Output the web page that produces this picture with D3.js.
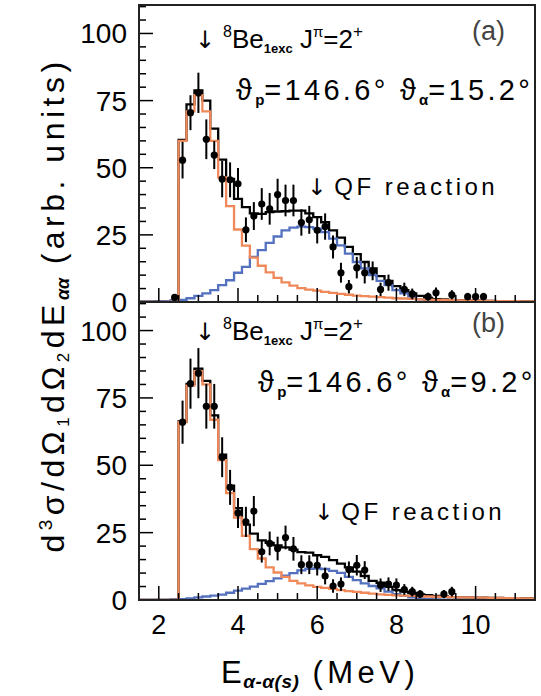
<!DOCTYPE html>
<html>
<head>
<meta charset="utf-8">
<script src="https://cdn.jsdelivr.net/npm/d3@7"></script>
<style>
  body { margin: 0; background: #fff; }
  text { font-family: "Liberation Sans", Arial, sans-serif; }
  .arrow { font-family: "DejaVu Sans", sans-serif; }
</style>
</head>
<body>
<div id="chart"></div>
<script>
// histogram bins: 0.2 MeV wide, first bin starts at 1.5 MeV (50 bins)
const binStart = 1.5, binWidth = 0.2;

// panel (a)  theta_alpha = 15.2 deg
const orangeA = [0, 0, 0, 0, 0,
  60, 71, 77, 71, 60, 46.4, 35.7, 27, 21, 16.5, 13.5, 11, 9, 7.3, 6.1,
  5.2, 4.6, 4.2, 3.8, 3.4, 3.0, 2.7, 2.4, 2.2, 2.0, 1.8, 1.6, 1.4, 1.3, 1.2,
  1.0, 0.9, 0.8, 0.75, 0.7, 0.6, 0.55, 0.5, 0.45, 0.4, 0.35, 0.3, 0.3, 0.25, 0.2];
const blueA = [0.1, 0.1, 0.2, 0.3, 0.5,
  0.8, 1.4, 2.3, 3.2, 4.4, 6.3, 8.1, 10.9, 13.1, 16.8, 19.3, 22, 24.4, 26.7, 27.7,
  28.1, 27.9, 27.3, 26, 23.6, 21.1, 18, 14.9, 12.5, 10, 7.9, 6.3, 4.4, 3.2, 2,
  1, 0.6, 0.3, 0.2, 0.1, 0, 0, 0, 0, 0, 0, 0, 0, 0, 0];
const totalA = [0.1, 0.1, 0.2, 0.3, 0.5,
  60.4, 73.6, 78.8, 75, 64.6, 53, 45.8, 38.4, 35.3, 33, 32.8, 33.5, 33.7, 33.8, 34,
  34, 33, 31.6, 29.7, 26.7, 24, 20.5, 17.8, 14.9, 12.5, 9.6, 7.9, 5.9, 4.4, 3.2,
  2.3, 1.5, 1.1, 0.95, 0.8, 0.6, 0.55, 0.5, 0.45, 0.4, 0.35, 0.3, 0.3, 0.25, 0.2];
const dataEA = [2.4, 2.6, 2.8, 3.0, 3.2, 3.4, 3.6, 3.8, 4.0, 4.2, 4.4, 4.6, 4.8, 5.0, 5.2, 5.4,
  5.6, 5.8, 6.0, 6.2, 6.4, 6.6, 6.8, 7.0, 7.2, 7.4, 7.6, 7.8, 8.2, 8.4, 8.8, 9.0, 9.4, 9.8, 10.0, 10.2];
const dataYA = [1.7, 52.8, 70.5, 77.9, 60.6, 54.7, 45.8, 45.5, 44, 26.9, 32, 36.5, 34.7, 40, 37.8, 37.8,
  29.6, 30.6, 26.7, 28.1, 20.5, 10.9, 5.7, 12.8, 10.9, 11.6, 4.7, 7.2, 4.7, 3, 2, 3.4, 2.7, 2, 2, 2];
const dataErrA = [1.2, 6.8, 6.5, 7.5, 7.4, 5.2, 6.8, 6.5, 5.9, 4.6, 5.2, 5.9, 5.9, 5.9, 5.9, 5.9,
  4.9, 5.2, 4.9, 4.9, 4.3, 3.7, 2.5, 4, 4, 3.5, 2.5, 3, 2.5, 2, 1.5, 2, 1.7, 1.4, 1.4, 1.4];

// panel (b)  theta_alpha = 9.2 deg
const orangeB = [0, 0, 0, 0, 0,
  66, 79.6, 84.9, 80, 66.9, 51.9, 39.7, 30.6, 23.8, 18.9, 15.4, 12.1, 10.2, 8.6, 7.1,
  6.2, 5.4, 4.9, 4.5, 4.1, 3.7, 3.3, 3.0, 2.7, 2.4, 2.1, 1.9, 1.7, 1.6, 1.5,
  1.4, 1.3, 1.2, 1.15, 1.1, 1.0, 0.95, 0.9, 0.85, 0.8, 0.75, 0.7, 0.65, 0.6, 0.6];
const blueB = [0, 0, 0, 0, 0.1,
  0.3, 0.6, 1.0, 1.3, 1.6, 2.0, 2.7, 3.5, 4.2, 5.0, 6.0, 7.0, 8.0, 9.0, 10.0,
  11.0, 11.6, 11.7, 11.5, 10.8, 10.1, 8.6, 7.4, 6.2, 5.2, 4.3, 3.1, 2.2, 1.5, 1.0,
  0.6, 0.4, 0.2, 0.1, 0, 0, 0, 0, 0, 0, 0, 0, 0, 0, 0];
const totalB = [0, 0, 0, 0, 0.1,
  66.3, 80.2, 85.9, 81.3, 68.5, 53.9, 42.4, 34.1, 28, 24.6, 22.1, 21.2, 20.3, 19.5, 18.7,
  17.8, 17.6, 16.6, 16.0, 14.8, 13.5, 12.1, 10.5, 8.9, 7.1, 6.4, 4.9, 3.7, 3.1, 2.6,
  2.1, 1.8, 1.5, 1.3, 1.1, 1.0, 0.95, 0.9, 0.85, 0.8, 0.75, 0.7, 0.65, 0.6, 0.6];
const dataEB = [2.6, 2.8, 3.0, 3.2, 3.4, 3.6, 3.8, 4.0, 4.2, 4.4, 4.6, 4.8, 5.0, 5.2, 5.4, 5.6,
  5.8, 6.0, 6.2, 6.4, 6.6, 6.8, 7.0, 7.2, 7.6, 7.8, 8.0, 8.2, 8.4, 8.6, 9.2, 9.4];
const dataYB = [66, 80.3, 84.2, 71.9, 71.9, 53, 41.8, 32.3, 29, 33, 17.9, 21, 19.1, 23.2, 19, 13.1,
  13.1, 12.9, 8.9, 5.2, 5.9, 11.3, 12.9, 11.1, 5.5, 5.9, 5.5, 3.9, 3.1, 2.2, 2.2, 3.1];
const dataErrB = [8, 9.3, 9.3, 8.3, 8.3, 7.4, 6.5, 5.6, 5.6, 5.6, 4, 4.4, 4.4, 4.4, 4.4, 3.5,
  3.5, 3.8, 3.1, 2.5, 2.5, 3, 3.8, 3.3, 2.5, 2.5, 2.5, 2, 1.8, 1.5, 1.5, 1.8];

const yTicks = [0, 25, 50, 75, 100];
const xTicks = [2, 4, 6, 8, 10];

const width = 541, height = 696;
const colOrange = "#f0895a", colBlue = "#5471c0";

const svg = d3.select("#chart")
  .append("svg")
  .attr("width", width)
  .attr("height", height);

const x = d3.scaleLinear().domain([1.5, 11.5]).range([139, 535]);

const panels = [
  {id: "a", top: 5, bottom: 302, orange: orangeA, blue: blueA, total: totalA,
   dE: dataEA, dY: dataYA, dErr: dataErrA},
  {id: "b", top: 302, bottom: 600, orange: orangeB, blue: blueB, total: totalB,
   dE: dataEB, dY: dataYB, dErr: dataErrB}
];

panels.forEach(p => {
  const y = d3.scaleLinear().domain([0, 110.6]).range([p.bottom, p.top]);
  const g = svg.append("g");

  g.append("clipPath").attr("id", "clip-" + p.id)
    .append("rect")
    .attr("x", x(1.5)).attr("y", p.top)
    .attr("width", x(11.5) - x(1.5)).attr("height", p.bottom - p.top);

  const plot = g.append("g").attr("clip-path", `url(#clip-${p.id})`);

  // step histograms
  const line = d3.line()
    .x(d => x(d[0]))
    .y(d => y(d[1]))
    .curve(d3.curveStepAfter);
  const histPts = vals => {
    const pts = vals.map((v, i) => [binStart + i * binWidth, v]);
    pts.push([binStart + vals.length * binWidth, vals[vals.length - 1]]);
    return pts;
  };

  [[p.total, "#000"], [p.blue, colBlue], [p.orange, colOrange]].forEach(([vals, c]) => {
    plot.append("path")
      .attr("d", line(histPts(vals)))
      .attr("fill", "none")
      .attr("stroke", c)
      .attr("stroke-width", 2.3);
  });

  // data points with error bars
  const pts = p.dE.map((e, i) => ({e: e, v: p.dY[i], err: p.dErr[i]}));
  plot.selectAll(".err")
    .data(pts)
    .enter()
    .append("line")
    .attr("x1", d => x(d.e)).attr("x2", d => x(d.e))
    .attr("y1", d => y(d.v - d.err)).attr("y2", d => y(d.v + d.err))
    .attr("stroke", "#000")
    .attr("stroke-width", 2);
  plot.selectAll(".pt")
    .data(pts)
    .enter()
    .append("circle")
    .attr("cx", d => x(d.e))
    .attr("cy", d => y(d.v))
    .attr("r", 3.6)
    .attr("fill", "#000");

  // ticks (inside the frame)
  d3.range(0, 111, 5).forEach(t => {
    const major = t % 25 === 0;
    g.append("line")
      .attr("x1", x(1.5)).attr("x2", x(1.5) + (major ? 14 : 7))
      .attr("y1", y(t)).attr("y2", y(t))
      .attr("stroke", "#000").attr("stroke-width", 1.5);
  });
  d3.range(2, 11.6, 0.5).forEach(t => {
    const major = xTicks.includes(t);
    g.append("line")
      .attr("x1", x(t)).attr("x2", x(t))
      .attr("y1", p.bottom).attr("y2", p.bottom - (major ? 14 : 7))
      .attr("stroke", "#000").attr("stroke-width", 1.5);
  });

  g.selectAll(".ylab")
    .data(yTicks)
    .enter()
    .append("text")
    .attr("x", 127)
    .attr("y", d => y(d) + 10)
    .attr("text-anchor", "end")
    .style("font-size", "28px")
    .text(d => d);

  // frame
  g.append("rect")
    .attr("x", x(1.5)).attr("y", p.top)
    .attr("width", x(11.5) - x(1.5)).attr("height", p.bottom - p.top)
    .attr("fill", "none")
    .attr("stroke", "#222")
    .attr("stroke-width", 2);
});

// x tick labels (bottom panel only)
svg.selectAll(".xlab")
  .data(xTicks)
  .enter()
  .append("text")
  .attr("x", d => x(d))
  .attr("y", 634)
  .attr("text-anchor", "middle")
  .style("font-size", "27px")
  .text(d => d);

// axis titles
svg.append("text")
  .attr("x", 221)
  .attr("y", 683)
  .style("font-size", "31px")
  .style("letter-spacing", "4.5px")
  .html('E<tspan font-size="19" font-weight="bold" font-style="italic" letter-spacing="0.5" dx="-3" dy="5">α-α(s)</tspan><tspan dy="-5"> (MeV)</tspan>');

svg.append("text")
  .attr("transform", "translate(64,305) rotate(-90)")
  .attr("text-anchor", "middle")
  .style("font-size", "32px")
  .style("letter-spacing", "4.5px")
  .html('d<tspan font-size="19" dy="-12">3</tspan><tspan dy="12">σ/dΩ</tspan><tspan font-size="17" dy="5">1</tspan><tspan dy="-5">dΩ</tspan><tspan font-size="17" dy="5">2</tspan><tspan dy="-5">dE</tspan><tspan font-size="18" font-weight="bold" font-style="italic" letter-spacing="0" dy="5">αα</tspan><tspan dy="-5"> (arb. units)</tspan>');

// annotations
const notes = [
  {label: "(a)", dy: 0, angle: "15.2°", ax: 236},
  {label: "(b)", dy: 292, angle: "9.2°", ax: 258}
];
notes.forEach(n => {
  svg.append("text")
    .attr("x", 195).attr("y", 48 + n.dy)
    .style("font-size", "26px")
    .html('<tspan class="arrow" font-size="24">↓</tspan><tspan font-size="16" dx="8" dy="-11">8</tspan><tspan dy="11">Be</tspan><tspan font-size="13" font-weight="bold" dy="5">1exc</tspan><tspan dy="-5"> J</tspan><tspan font-size="15" dy="-11">π</tspan><tspan dy="11">=2</tspan><tspan font-size="17" dy="-11">+</tspan>');

  svg.append("text")
    .attr("x", 472).attr("y", 40 + n.dy)
    .style("font-size", "27px")
    .style("fill", "#444")
    .text(n.label);

  svg.append("text")
    .attr("x", n.ax).attr("y", 100 + n.dy)
    .style("font-size", "29px")
    .style("letter-spacing", "3.3px")
    .html(`ϑ<tspan font-size="15" font-weight="bold" letter-spacing="0" dy="5">p</tspan><tspan dy="-5">=146.6° ϑ</tspan><tspan font-size="15" font-weight="bold" letter-spacing="0" dy="5">α</tspan><tspan dy="-5">=${n.angle}</tspan>`);
});

const qfNotes = [{x: 307, y: 195}, {x: 314, y: 520}];
qfNotes.forEach(q => {
  svg.append("text")
    .attr("x", q.x).attr("y", q.y)
    .style("font-size", "24px")
    .style("letter-spacing", "3.5px")
    .html('<tspan class="arrow" font-size="23" letter-spacing="0">↓</tspan><tspan dx="8">QF reaction</tspan>');
});
</script>
</body>
</html>
